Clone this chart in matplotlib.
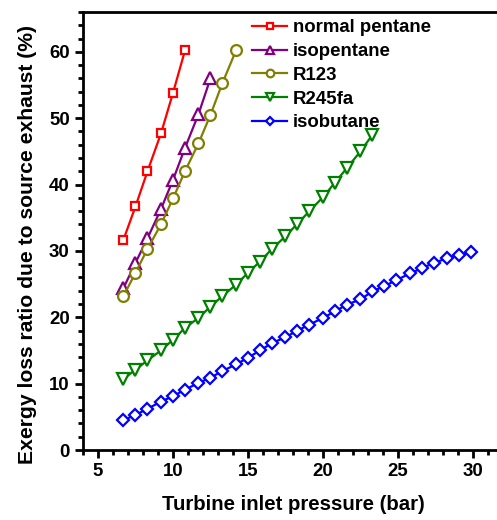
import matplotlib
matplotlib.use("Agg")
import matplotlib.pyplot as plt
from matplotlib.ticker import MultipleLocator

plt.rcParams['font.family'] = ['Liberation Sans', 'DejaVu Sans']
plt.rcParams['font.weight'] = 'bold'

# turbine inlet pressure grid (bar)
pressure = [6.7, 7.5, 8.3, 9.2, 10.0, 10.8, 11.7, 12.5, 13.3, 14.2, 15.0, 15.8,
            16.6, 17.5, 18.3, 19.1, 20.0, 20.8, 21.6, 22.5, 23.3, 24.1, 24.9,
            25.8, 26.6, 27.4, 28.3, 29.1, 29.9]

# exergy loss ratio (%)
normal_pentane = [31.7, 36.7, 42.0, 47.7, 53.8, 60.2]
isopentane = [24.4, 28.2, 31.9, 36.3, 40.7, 45.5, 50.6, 56.0]
r123 = [23.2, 26.7, 30.3, 34.0, 37.9, 42.0, 46.2, 50.5, 55.3, 60.2]
r245fa = [10.7, 12.1, 13.5, 15.0, 16.6, 18.4, 19.9, 21.6, 23.2, 24.9, 26.7,
          28.4, 30.3, 32.2, 34.1, 36.0, 38.1, 40.3, 42.5, 45.0, 47.5]
isobutane = [4.5, 5.3, 6.2, 7.3, 8.1, 9.1, 10.1, 10.9, 11.9, 12.9, 13.9, 15.0,
             16.1, 17.0, 18.0, 18.9, 19.9, 20.9, 21.9, 22.7, 23.9, 24.7, 25.6,
             26.6, 27.4, 28.2, 28.9, 29.4, 29.8]

series = [
    ("normal pentane", normal_pentane, '#FF0000', 's', 6.2),
    ("isopentane", isopentane, '#800080', '^', 8.5),
    ("R123", r123, '#808000', 'o', 7.8),
    ("R245fa", r245fa, '#008000', 'v', 8.0),
    ("isobutane", isobutane, '#0000FF', 'D', 6.0),
]

fig = plt.figure(figsize=(4.97, 5.2), dpi=100)
ax = fig.add_axes([0.167, 0.1346, 0.845, 0.8424])

for name, vals, col, mk, ms in series:
    ax.plot(pressure[:len(vals)], vals, color=col, marker=mk, markersize=ms,
            markerfacecolor='white', markeredgecolor=col, markeredgewidth=1.6,
            linewidth=1.6, label=name)

ax.set_xlim(4, 32)
ax.set_ylim(0, 66)
ax.xaxis.set_major_locator(MultipleLocator(5))
ax.xaxis.set_minor_locator(MultipleLocator(1))
ax.yaxis.set_major_locator(MultipleLocator(10))
ax.yaxis.set_minor_locator(MultipleLocator(2))

for sp in ax.spines.values():
    sp.set_linewidth(2)
ax.tick_params(which='major', direction='out', length=6, width=2,
               labelsize=13.4, top=False, right=False)
ax.tick_params(which='minor', direction='out', length=3.5, width=2,
               top=False, right=False)

ax.set_xlabel("Turbine inlet pressure (bar)", fontsize=14.7, fontweight='bold',
              labelpad=11)
ax.set_ylabel("Exergy loss ratio due to source exhaust (%)", fontsize=15.2,
              fontweight='bold')
ax.yaxis.set_label_coords(-0.11, 0.47)

ax.legend(loc='upper left', bbox_to_anchor=(0.402, 0.983), frameon=False,
          fontsize=13.4, handlelength=1.9, handletextpad=0.3, labelspacing=0.36,
          borderaxespad=0, borderpad=0, markerscale=0.7)

fig.savefig("out.png", dpi=100)
